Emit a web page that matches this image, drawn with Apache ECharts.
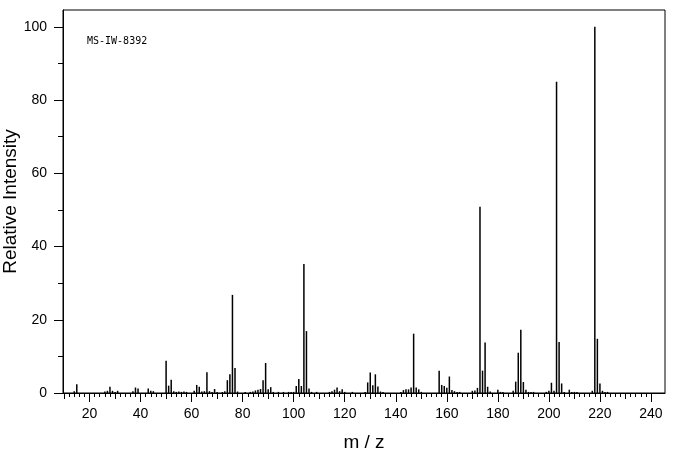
<!DOCTYPE html>
<html>
<head>
<meta charset="utf-8">
<script src="https://cdn.jsdelivr.net/npm/echarts@6/dist/echarts.min.js"></script>
<style>
  html, body { margin: 0; padding: 0; background: #fff; }
  #chart { width: 676px; height: 455px; }
</style>
</head>
<body>
<div id="chart"></div>
<script>
// m/z and relative intensity
var mz = [14, 15, 26, 27, 28, 29, 30, 31, 37, 38, 39, 43, 44, 45,
  50, 51, 52, 53, 54, 55, 56, 57, 58, 61, 62, 63, 64, 65, 66, 67, 68, 69, 70,
  72, 73, 74, 75, 76, 77, 78, 81, 83, 84, 85, 86, 87, 88, 89, 90, 91, 92,
  94, 96, 98, 99, 100, 101, 102, 103, 104, 105, 106, 107, 109,
  114, 115, 116, 117, 118, 119, 120, 123, 128, 129, 130, 131, 132, 133, 134, 135,
  142, 143, 144, 145, 146, 147, 148, 149, 150,
  157, 158, 159, 160, 161, 162, 163, 164, 165,
  170, 171, 172, 173, 174, 175, 176, 177, 180, 181, 182,
  186, 187, 188, 189, 190, 191, 192, 193, 194,
  199, 200, 201, 202, 203, 204, 205, 206, 208, 209, 210, 211,
  217, 218, 219, 220, 221, 222, 223];
var intensity = [0.5, 2.4, 0.4, 0.6, 1.7, 0.6, 0.3, 0.6, 0.5, 1.5, 1.2, 1.2, 0.6, 0.5,
  8.8, 2.0, 3.6, 0.5, 0.3, 0.4, 0.3, 0.4, 0.3, 0.6, 2.2, 1.7, 0.4, 0.5, 5.7, 0.5, 0.3, 1.1, 0.3,
  0.3, 0.5, 3.5, 5.1, 26.8, 6.8, 0.4, 0.3, 0.3, 0.4, 0.7, 0.9, 1.1, 3.5, 8.2, 1.0, 1.6, 0.3,
  0.3, 0.3, 0.3, 0.3, 0.3, 1.9, 3.8, 1.9, 35.2, 16.9, 1.2, 0.3, 0.3,
  0.3, 0.5, 0.9, 1.5, 0.5, 1.0, 0.3, 0.3, 0.3, 2.9, 5.6, 2.1, 5.1, 1.8, 0.4, 0.3,
  0.3, 0.8, 1.0, 1.0, 1.5, 16.2, 1.5, 1.0, 0.3,
  6.1, 2.2, 1.9, 1.4, 4.5, 0.8, 0.5, 0.3, 0.3,
  0.6, 0.7, 1.4, 50.9, 6.1, 13.8, 1.7, 0.4, 0.9, 0.3, 0.3,
  0.6, 3.1, 11.0, 17.3, 3.0, 0.9, 0.3, 0.3, 0.3,
  0.3, 0.6, 2.8, 0.6, 85.0, 13.9, 2.6, 0.3, 0.9, 0.3, 0.3, 0.3,
  0.6, 100, 14.8, 2.6, 0.6, 0.3, 0.3];

var xMajor = [20, 40, 60, 80, 100, 120, 140, 160, 180, 200, 220, 240];
var yMajor = [0, 20, 40, 60, 80, 100];
var yMinor = [10, 30, 50, 70, 90];

// medium ticks every 10, small ticks every 2
var xMid = [];
for (var v = 10; v <= 240; v += 20) xMid.push(v);
var xMinor = [];
for (var w = 10; w <= 240; w += 2) {
  if (w % 10 !== 0) xMinor.push(w);
}

var pairs = mz.map(function (m, i) { return [m, intensity[i]]; });

var FONT = 'Liberation Sans';
var xMin = 9.6, xMax = 245.5, yMax = 104.6;

function xAx(ticks, len, withLabels) {
  return {
    type: 'value', min: xMin, max: xMax, position: 'bottom',
    axisLine: { show: withLabels, onZero: false, lineStyle: { color: '#000', width: 1 } },
    axisTick: { show: true, customValues: ticks, length: len, lineStyle: { color: '#000', width: 1 } },
    axisLabel: withLabels ? { show: true, customValues: xMajor, margin: 14, color: '#000', fontFamily: FONT, fontSize: 14 } : { show: false },
    splitLine: { show: false },
    name: withLabels ? 'm / z' : '',
    nameLocation: 'middle', nameGap: 40, nameMoveOverlap: false,
    nameTextStyle: { color: '#000', fontFamily: FONT, fontSize: 19 }
  };
}

function yAx(ticks, len, withLabels) {
  return {
    type: 'value', min: 0, max: yMax, position: 'left',
    axisLine: { show: withLabels, lineStyle: { color: '#000', width: 1 } },
    axisTick: { show: true, customValues: ticks, length: len, lineStyle: { color: '#000', width: 1 } },
    axisLabel: withLabels ? { show: true, customValues: yMajor, margin: 16, color: '#000', fontFamily: FONT, fontSize: 14 } : { show: false },
    splitLine: { show: false },
    name: withLabels ? 'Relative Intensity' : '',
    nameLocation: 'middle', nameGap: 43, nameMoveOverlap: false,
    nameTextStyle: { color: '#000', fontFamily: FONT, fontSize: 19 }
  };
}

var chart = echarts.init(document.getElementById('chart'));
chart.setOption({
  animation: false,
  backgroundColor: '#fff',
  grid: {
    left: 63, right: 11, top: 10, bottom: 62,
    outerBoundsMode: 'none', containLabel: false,
    show: true, borderColor: '#000', borderWidth: 1, backgroundColor: 'transparent'
  },
  graphic: [{
    type: 'text', left: 87, top: 36,
    style: { text: 'MS-IW-8392', fill: '#000', font: '10px "DejaVu Sans Mono"' }
  }],
  xAxis: [xAx(xMajor, 9, true), xAx(xMid, 6, false), xAx(xMinor, 4, false)],
  yAxis: [yAx(yMajor, 9, true), yAx(yMinor, 5, false)],
  series: [{
    type: 'bar',
    xAxisIndex: 0, yAxisIndex: 0,
    data: pairs,
    barWidth: 1.5,
    itemStyle: { color: '#000' }
  }]
});
</script>
</body>
</html>
